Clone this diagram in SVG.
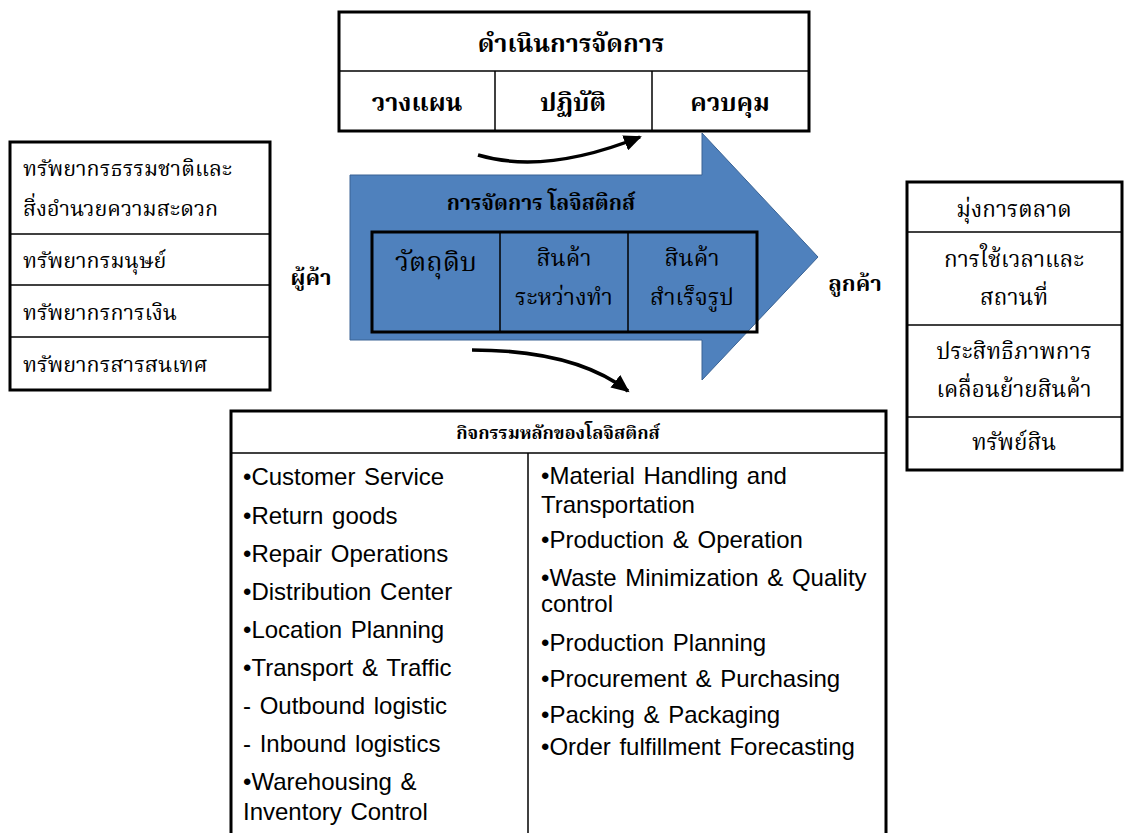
<svg xmlns="http://www.w3.org/2000/svg" width="1125" height="833" viewBox="0 0 1125 833">
<style>
.box{fill:#fff;stroke:#000;stroke-width:3}
.ln{stroke:#000;stroke-width:1.5;fill:none}
.th{font-family:"Liberation Serif","Noto Serif Thai","Noto Sans Thai","Garuda","Loma","Tlwg Typo",serif;fill:#000}
.thb{font-family:"Liberation Serif","Noto Serif Thai","Noto Sans Thai","Garuda","Loma",serif;font-weight:bold;fill:#000}
.en{font-family:"Liberation Sans",Arial,sans-serif;font-size:24px;fill:#000;word-spacing:2px}
.c{text-anchor:middle}
.conn{fill:none;stroke:#000;stroke-width:3.5}
</style>
<defs>
<marker id="ah" markerUnits="userSpaceOnUse" markerWidth="20" markerHeight="16" refX="16" refY="8" orient="auto">
<path d="M0,0 L18,8 L0,16 Z" fill="#000"/>
</marker>
</defs>
<rect width="1125" height="833" fill="#fff"/>

<g id="management">
<rect class="box" x="339" y="12" width="470" height="119"/>
<line class="ln" x1="339" y1="71" x2="809" y2="71"/>
<line class="ln" x1="495" y1="71" x2="495" y2="131"/>
<line class="ln" x1="652" y1="71" x2="652" y2="131"/>
<text class="thb c" x="571" y="52" font-size="25">ดำเนินการจัดการ</text>
<text class="thb c" x="417" y="111" font-size="25">วางแผน</text>
<text class="thb c" x="573" y="111" font-size="25">ปฏิบัติ</text>
<text class="thb c" x="730" y="111" font-size="25">ควบคุม</text>
</g>

<g id="resources">
<rect class="box" x="10" y="142" width="260" height="248"/>
<line class="ln" x1="10" y1="234" x2="270" y2="234"/>
<line class="ln" x1="10" y1="285" x2="270" y2="285"/>
<line class="ln" x1="10" y1="337" x2="270" y2="337"/>
<text class="th" x="23" y="176" font-size="21.5">ทรัพยากรธรรมชาติและ</text>
<text class="th" x="23" y="216" font-size="21.5">สิ่งอำนวยความสะดวก</text>
<text class="th" x="23" y="268" font-size="21.5">ทรัพยากรมนุษย์</text>
<text class="th" x="23" y="320" font-size="21.5">ทรัพยากรการเงิน</text>
<text class="th" x="23" y="372" font-size="21.5">ทรัพยากรสารสนเทศ</text>
</g>

<g id="supplier">
<text class="thb c" x="311" y="285" font-size="22">ผู้ค้า</text>
</g>

<g id="logistics-arrow">
<polygon points="350,175 702,175 702,133 818,257 702,380 702,340 350,340" fill="#4F81BD" stroke="#3A6394" stroke-width="1"/>
<text class="thb c" x="541" y="210" font-size="21">การจัดการ โลจิสติกส์</text>
<rect x="372" y="232" width="385" height="100" fill="none" stroke="#000" stroke-width="3"/>
<line class="ln" x1="500" y1="232" x2="500" y2="332"/>
<line class="ln" x1="628" y1="232" x2="628" y2="332"/>
<text class="th c" x="436" y="271" font-size="27">วัตถุดิบ</text>
<text class="th c" x="564" y="266" font-size="23">สินค้า</text>
<text class="th c" x="564" y="305" font-size="23">ระหว่างทำ</text>
<text class="th c" x="692" y="266" font-size="23">สินค้า</text>
<text class="th c" x="692" y="305" font-size="23">สำเร็จรูป</text>
</g>

<g id="customer">
<text class="thb c" x="855" y="291" font-size="22">ลูกค้า</text>
</g>

<g id="outcomes">
<rect class="box" x="907" y="182" width="215" height="288"/>
<line class="ln" x1="907" y1="232" x2="1122" y2="232"/>
<line class="ln" x1="907" y1="325" x2="1122" y2="325"/>
<line class="ln" x1="907" y1="417" x2="1122" y2="417"/>
<text class="th c" x="1014" y="217" font-size="22.5">มุ่งการตลาด</text>
<text class="th c" x="1014" y="267" font-size="22.5">การใช้เวลาและ</text>
<text class="th c" x="1014" y="305" font-size="22.5">สถานที่</text>
<text class="th c" x="1014" y="359" font-size="22.5">ประสิทธิภาพการ</text>
<text class="th c" x="1014" y="397" font-size="22.5">เคลื่อนย้ายสินค้า</text>
<text class="th c" x="1014" y="450" font-size="22.5">ทรัพย์สิน</text>
</g>

<g id="activities">
<rect class="box" x="231" y="411" width="655" height="440"/>
<line class="ln" x1="231" y1="453" x2="886" y2="453"/>
<line class="ln" x1="528" y1="453" x2="528" y2="833"/>
<text class="thb c" x="558" y="439" font-size="18">กิจกรรมหลักของโลจิสติกส์</text>
<text class="en" x="243" y="485">•Customer Service</text>
<text class="en" x="243" y="524">•Return goods</text>
<text class="en" x="243" y="562">•Repair Operations</text>
<text class="en" x="243" y="600">•Distribution Center</text>
<text class="en" x="243" y="638">•Location Planning</text>
<text class="en" x="243" y="676">•Transport &amp; Traffic</text>
<text class="en" x="243" y="714"> - Outbound logistic</text>
<text class="en" x="243" y="752"> - Inbound logistics</text>
<text class="en" x="243" y="790">•Warehousing &amp;</text>
<text class="en" x="243" y="820">Inventory Control</text>
<text class="en" x="541" y="484">•Material Handling and</text>
<text class="en" x="541" y="513">Transportation</text>
<text class="en" x="541" y="548">•Production &amp; Operation</text>
<text class="en" x="541" y="586">•Waste Minimization &amp; Quality</text>
<text class="en" x="541" y="612">control</text>
<text class="en" x="541" y="651">•Production Planning</text>
<text class="en" x="541" y="687">•Procurement &amp; Purchasing</text>
<text class="en" x="541" y="723">•Packing &amp; Packaging</text>
<text class="en" x="541" y="755">•Order fulfillment Forecasting</text>
</g>

<g id="connectors">
<path class="conn" d="M478,155 Q545,175 640,137" marker-end="url(#ah)"/>
<path class="conn" d="M472,350 Q575,350 628,391" marker-end="url(#ah)"/>
</g>
</svg>
